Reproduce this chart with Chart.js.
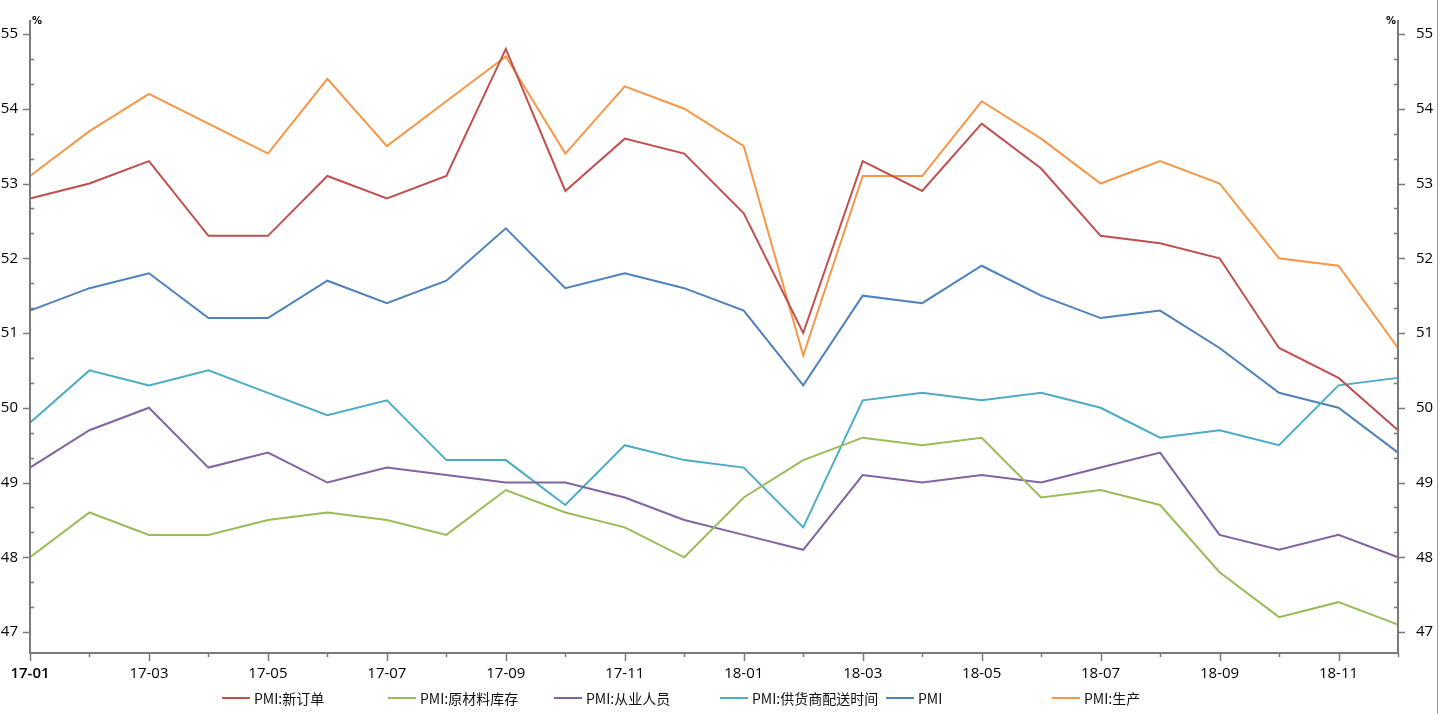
<!DOCTYPE html>
<html>
<head>
<meta charset="utf-8">
<title>PMI 分项指数</title>
<script src="https://cdn.jsdelivr.net/npm/chart.js@4.4.1/dist/chart.umd.min.js"></script>
<style>
  html, body { margin: 0; padding: 0; background: #fff; }
  #wrap { position: relative; width: 1440px; height: 714px; overflow: hidden; }
  #frame { position: absolute; left: 1437px; top: 0; width: 1px; height: 714px; background: #9a9a9a; }
  #legend {
    position: absolute; left: 222px; top: 688px; display: flex;
    font-family: "Noto Sans CJK SC", "Noto Sans", sans-serif; font-size: 14px; color: #111;
  }
  .item { width: 166px; display: flex; align-items: center; height: 20px; }
  .swatch { width: 28px; height: 2px; margin-right: 4px; }
</style>
</head>
<body>
<div id="wrap">
  <canvas id="pmiChart"></canvas>
  <div id="frame"></div>
  <div id="legend"></div>
</div>
<script>
// months 17-01 .. 18-12
const months = [
  '17-01', '17-02', '17-03', '17-04', '17-05', '17-06',
  '17-07', '17-08', '17-09', '17-10', '17-11', '17-12',
  '18-01', '18-02', '18-03', '18-04', '18-05', '18-06',
  '18-07', '18-08', '18-09', '18-10', '18-11', '18-12',
];

const newOrders = [52.8, 53.0, 53.3, 52.3, 52.3, 53.1, 52.8, 53.1, 54.8, 52.9, 53.6, 53.4,
  52.6, 51.0, 53.3, 52.9, 53.8, 53.2, 52.3, 52.2, 52.0, 50.8, 50.4, 49.7];
const rawInventory = [48.0, 48.6, 48.3, 48.3, 48.5, 48.6, 48.5, 48.3, 48.9, 48.6, 48.4, 48.0,
  48.8, 49.3, 49.6, 49.5, 49.6, 48.8, 48.9, 48.7, 47.8, 47.2, 47.4, 47.1];
const employment = [49.2, 49.7, 50.0, 49.2, 49.4, 49.0, 49.2, 49.1, 49.0, 49.0, 48.8, 48.5,
  48.3, 48.1, 49.1, 49.0, 49.1, 49.0, 49.2, 49.4, 48.3, 48.1, 48.3, 48.0];
const deliveryTime = [49.8, 50.5, 50.3, 50.5, 50.2, 49.9, 50.1, 49.3, 49.3, 48.7, 49.5, 49.3,
  49.2, 48.4, 50.1, 50.2, 50.1, 50.2, 50.0, 49.6, 49.7, 49.5, 50.3, 50.4];
const pmi = [51.3, 51.6, 51.8, 51.2, 51.2, 51.7, 51.4, 51.7, 52.4, 51.6, 51.8, 51.6,
  51.3, 50.3, 51.5, 51.4, 51.9, 51.5, 51.2, 51.3, 50.8, 50.2, 50.0, 49.4];
const production = [53.1, 53.7, 54.2, 53.8, 53.4, 54.4, 53.5, 54.1, 54.7, 53.4, 54.3, 54.0,
  53.5, 50.7, 53.1, 53.1, 54.1, 53.6, 53.0, 53.3, 53.0, 52.0, 51.9, 50.8];

const yTicks = [47, 48, 49, 50, 51, 52, 53, 54, 55];

const series = [
  {label: 'PMI:新订单', data: newOrders, color: '#C0504D'},
  {label: 'PMI:原材料库存', data: rawInventory, color: '#9BBB59'},
  {label: 'PMI:从业人员', data: employment, color: '#8064A2'},
  {label: 'PMI:供货商配送时间', data: deliveryTime, color: '#4BACC6'},
  {label: 'PMI', data: pmi, color: '#4F81BD'},
  {label: 'PMI:生产', data: production, color: '#F79646'},
];

const AXIS_COLOR = '#7a7a7a';
const tickFont = {family: '"Open Sans", "Noto Sans", sans-serif', size: 15};

// axis lines, tick marks and the % units
const axisPlugin = {
  id: 'axisPlugin',
  afterDraw(chart) {
    const {ctx, chartArea: a, scales} = chart;
    const y = scales.y;
    const x = scales.x;
    ctx.save();
    ctx.strokeStyle = AXIS_COLOR;
    ctx.lineWidth = 2;
    ctx.beginPath();
    ctx.moveTo(a.left, a.top); ctx.lineTo(a.left, a.bottom);
    ctx.moveTo(a.right, a.top); ctx.lineTo(a.right, a.bottom);
    ctx.moveTo(a.left - 1, a.bottom); ctx.lineTo(a.right + 1, a.bottom);
    ctx.stroke();

    ctx.lineWidth = 1.5;
    ctx.beginPath();
    for (let i = 0; i < yTicks.length; i++) {
      const py = Math.round(y.getPixelForValue(yTicks[i])) + 0.5;
      ctx.moveTo(a.left - 7, py); ctx.lineTo(a.left, py);
      ctx.moveTo(a.right, py); ctx.lineTo(a.right + 7, py);
      if (i < yTicks.length - 1) {
        for (const f of [1 / 3, 2 / 3]) {
          const my = Math.round(y.getPixelForValue(yTicks[i] + f)) + 0.5;
          ctx.moveTo(a.left, my); ctx.lineTo(a.left + 4, my);
          ctx.moveTo(a.right - 4, my); ctx.lineTo(a.right, my);
        }
      }
    }
    const lastMinor = Math.round(y.getPixelForValue(yTicks[0] - 1 / 3)) + 0.5;
    if (lastMinor < a.bottom) {
      ctx.moveTo(a.left, lastMinor); ctx.lineTo(a.left + 4, lastMinor);
    }
    months.forEach((m, i) => {
      const px = Math.round(x.getPixelForValue(i)) + 0.5;
      ctx.moveTo(px, a.bottom); ctx.lineTo(px, a.bottom + (i % 2 === 0 ? 8 : 4));
    });
    ctx.stroke();

    ctx.fillStyle = '#000';
    ctx.font = 'bold 10px "DejaVu Sans", sans-serif';
    ctx.textBaseline = 'middle';
    ctx.textAlign = 'left';
    ctx.fillText('%', a.left + 2, a.top + 1);
    ctx.textAlign = 'right';
    ctx.fillText('%', a.right - 2, a.top + 1);
    ctx.restore();
  },
};

const ctx = document.getElementById('pmiChart');
new Chart(ctx, {
  type: 'line',
  data: {
    labels: months,
    datasets: series.map((s) => ({
      label: s.label,
      data: s.data,
      borderColor: s.color,
      backgroundColor: s.color,
      borderWidth: 2,
      pointRadius: 0,
      tension: 0,
      yAxisID: 'y',
    })),
  },
  options: {
    responsive: true,
    maintainAspectRatio: false,
    animation: false,
    layout: {padding: {top: 20, left: 0, right: 0, bottom: 0}},
    plugins: {legend: {display: false}, tooltip: {enabled: false}},
    scales: {
      x: {
        type: 'category',
        offset: false,
        grid: {display: false},
        border: {display: false},
        afterFit: (s) => { s.height = 61; },
        ticks: {
          autoSkip: false,
          maxRotation: 0,
          padding: 4,
          color: '#000',
          font: (c) => ({...tickFont, weight: c.index === 0 ? '600' : 'normal'}),
          callback: (v, i) => (i % 2 === 0 ? months[i] : ''),
        },
      },
      y: {
        position: 'left',
        min: 46.72,
        max: 55.187,
        grid: {display: false},
        border: {display: false},
        afterFit: (s) => { s.width = 30; },
        afterBuildTicks: (s) => { s.ticks = yTicks.map((v) => ({value: v})); },
        ticks: {padding: 4, color: '#000', font: tickFont},
      },
      y2: {
        position: 'right',
        display: true,
        min: 46.72,
        max: 55.187,
        grid: {display: false},
        border: {display: false},
        afterFit: (s) => { s.width = 42; },
        afterBuildTicks: (s) => { s.ticks = yTicks.map((v) => ({value: v})); },
        ticks: {padding: 10, color: '#000', font: tickFont},
      },
    },
  },
  plugins: [axisPlugin],
});

// legend, evenly spaced like the original
const legendEl = document.getElementById('legend');
series.forEach((s) => {
  const item = document.createElement('div');
  item.className = 'item';
  const sw = document.createElement('span');
  sw.className = 'swatch';
  sw.style.background = s.color;
  const txt = document.createElement('span');
  txt.textContent = s.label;
  item.appendChild(sw);
  item.appendChild(txt);
  legendEl.appendChild(item);
});
</script>
</body>
</html>
